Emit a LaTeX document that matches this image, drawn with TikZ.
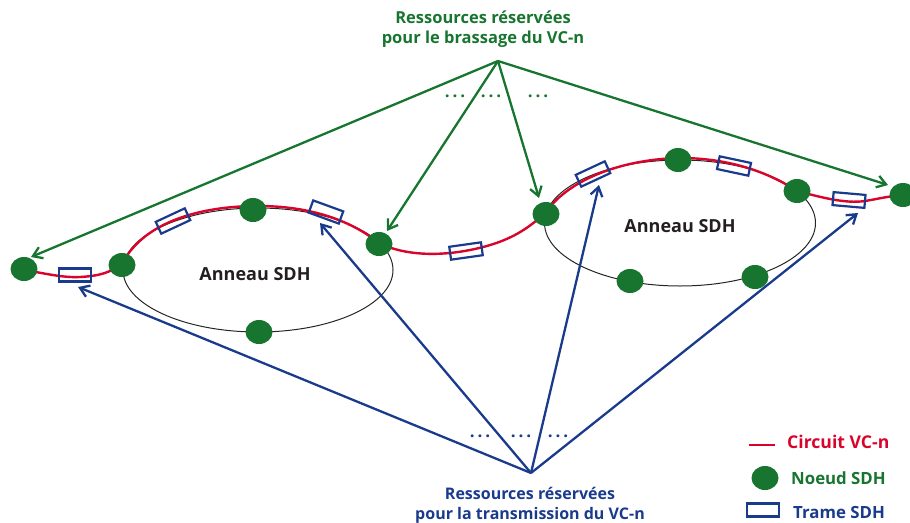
\documentclass[tikz,border=0pt]{standalone}
\usepackage{fontspec}
\setmainfont{Open Sans}
\usetikzlibrary{arrows.meta,shapes.geometric}
\definecolor{cgreen}{HTML}{17752F}
\definecolor{cred}{HTML}{D9042B}
\definecolor{cblue}{HTML}{1A3A8C}
\definecolor{cdark}{HTML}{231F20}
\tikzset{
  noeud/.style={ellipse,fill=cgreen,minimum width=27pt,minimum height=24pt,inner sep=0pt},
  trame/.style={rectangle,draw=cblue,line width=2.2pt,minimum width=32pt,minimum height=13pt,inner sep=0pt},
  ring/.style={draw=black!85,line width=1pt},
  circuit/.style={draw=cred,line width=2.4pt,line cap=round},
  garrow/.style={draw=cgreen,line width=2.3pt,-{Straight Barb[length=9pt,width=12pt]}},
  barrow/.style={draw=cblue,line width=2.3pt,-{Straight Barb[length=9pt,width=12pt]}},
  lab/.style={font=\fontsize{16}{20}\selectfont\bfseries,align=center,inner sep=0pt},
  biglab/.style={font=\fontsize{18}{20}\selectfont\bfseries,inner sep=0pt},
  dots/.style={font=\fontsize{17}{17}\selectfont\bfseries,inner sep=0pt},
}
\begin{document}
\begin{tikzpicture}[x=1pt,y=-1pt]
\useasboundingbox (0,0) rectangle (910,522);
% rings
\draw[ring] (258,270) ellipse [x radius=135,y radius=62];
\draw[ring] (680,223) ellipse [x radius=135.5,y radius=63];
% circuit
\draw[circuit] (12,268) .. controls (40,272) and (60,278) .. (80,277)
  .. controls (98,276) and (112,273) .. (123,262)
  .. controls (145,222) and (200,206) .. (258,206)
  .. controls (310,206) and (350,220) .. (379,243)
  .. controls (405,256) and (440,256) .. (470,250)
  .. controls (505,243) and (525,232) .. (546,212)
  .. controls (570,178) and (625,159) .. (680,158)
  .. controls (725,158) and (765,170) .. (797,191)
  .. controls (820,197) and (845,204) .. (865,201)
  .. controls (878,199) and (888,196) .. (905,195);
% frames
\node[trame] (f1) at (75,275) {};
\node[trame,rotate=25] (f2) at (173,221) {};
\node[trame,rotate=-20] (f3) at (326,212) {};
\node[trame,rotate=8] (f4) at (466,251) {};
\node[trame,rotate=25] (f5) at (593,174) {};
\node[trame,rotate=-12] (f6) at (734,166) {};
\node[trame,rotate=-5] (f7) at (849,200) {};
% nodes
\node[noeud] (n1) at (24,269) {};
\node[noeud] (n2) at (122,265) {};
\node[noeud] (n3) at (253,210) {};
\node[noeud] (n4) at (379,244) {};
\node[noeud] (n5) at (259,332) {};
\node[noeud] (n6) at (546,214) {};
\node[noeud] (n7) at (678,160) {};
\node[noeud] (n8) at (797,191) {};
\node[noeud] (n9) at (903,195) {};
\node[noeud] (n10) at (630,281) {};
\node[noeud] (n11) at (755,277) {};
% labels
\node[lab,font=\fontsize{16.5}{20}\selectfont\bfseries,text=cgreen] (gtxt) at (483,29.5) {Ressources réservées\\pour le brassage du VC-n};
\node[lab,text=cblue] (btxt) at (530,505.5) {Ressources réservées\\pour la transmission du VC-n};
\node[biglab,text=cdark] (a1) at (255,274) {Anneau SDH};
\node[biglab,text=cdark] (a2) at (680,226) {Anneau SDH};
% apexes and arrow ends
\coordinate (gapex) at (498,61);
\coordinate (bapex) at (531,473);
\coordinate (g1) at (31,257);
\coordinate (g2) at (387,231);
\coordinate (g3) at (539,198);
\coordinate (g4) at (888,185);
\coordinate (b1) at (78,287);
\coordinate (b2) at (320,223);
\coordinate (b3) at (599,185);
\coordinate (b4) at (858,213);
\draw[garrow] (gapex) -- (g1);
\draw[garrow] (gapex) -- (g2);
\draw[garrow] (gapex) -- (g3);
\draw[garrow] (gapex) -- (g4);
\draw[barrow] (bapex) -- (b1);
\draw[barrow] (bapex) -- (b2);
\draw[barrow] (bapex) -- (b3);
\draw[barrow] (bapex) -- (b4);
% dots
\node[dots,text=cgreen] (d1) at (455,96) {.\,.\,.};
\node[dots,text=cgreen] (d2) at (491,96) {.\,.\,.};
\node[dots,text=cgreen] (d3) at (538,96) {.\,.\,.};
\node[dots,text=cblue] (d4) at (480,436) {.\,.\,.};
\node[dots,text=cblue] (d5) at (521,436) {.\,.\,.};
\node[dots,text=cblue] (d6) at (558,436) {.\,.\,.};
% legend
\coordinate (l1) at (749,445);
\coordinate (l2) at (775,445);
\draw[circuit,line cap=butt] (l1) -- (l2);
\node[biglab,font=\fontsize{17.6}{20}\selectfont\bfseries,text=cred,anchor=west] (lc) at (787,442) {Circuit VC-n};
\node[noeud] (ln) at (765,478) {};
\node[lab,font=\fontsize{16.8}{20}\selectfont\bfseries,text=cgreen,anchor=west] (ln2) at (791,478) {Noeud SDH};
\node[trame] (lf) at (763,510) {};
\node[lab,font=\fontsize{16.8}{20}\selectfont\bfseries,text=cblue,anchor=west] (lf2) at (793,512) {Trame SDH};
\end{tikzpicture}
\end{document}
